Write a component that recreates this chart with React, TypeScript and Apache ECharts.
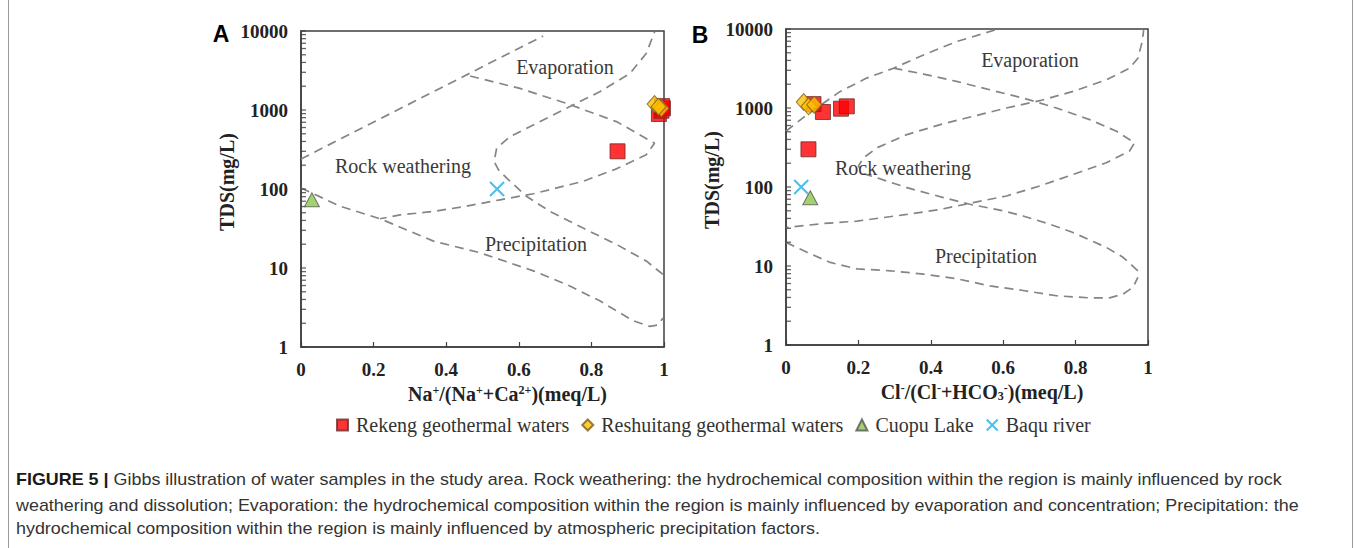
import React, { useEffect, useRef } from "react";
import * as echarts from "echarts";

const SERIF = "'Liberation Serif', 'Times New Roman', serif";
const SANS = "'Liberation Sans', Arial, sans-serif";

// Sample groups (legend order)
const groupNames = [
  "Rekeng geothermal waters",
  "Reshuitang geothermal waters",
  "Cuopu Lake",
  "Baqu river",
];

// TDS (mg/L) and the two Gibbs ratios for every sample
const rekengTDS = [300, 890, 980, 1050, 1120];
const rekengNaRatio = [0.872, 0.986, 0.993, 0.997, 0.995];
const rekengClRatio = [0.062, 0.102, 0.152, 0.168, 0.076];

const reshuitangTDS = [1190, 1050, 1100];
const reshuitangNaRatio = [0.974, 0.993, 0.985];
const reshuitangClRatio = [0.049, 0.0625, 0.078];

const cuopuTDS = [73];
const cuopuNaRatio = [0.03];
const cuopuClRatio = [0.067];

const baquTDS = [100];
const baquNaRatio = [0.54];
const baquClRatio = [0.042];

// Gibbs boundary envelopes, [ratio, TDS]
const naUpperBoundary = [[0, 240], [0.667, 8650]];
const naInnerBoundary = [
  [0.466, 2690], [0.603, 1875], [0.731, 1214], [0.869, 713], [0.974, 380],
  [0.951, 271], [0.869, 180], [0.777, 125], [0.64, 87], [0.548, 73],
  [0.456, 60.6], [0.365, 52], [0.273, 47], [0.218, 42],
];
const naLowerBoundary = [
  [0, 103], [0.108, 60.5], [0.218, 42], [0.365, 21.9], [0.493, 15.6],
  [0.64, 9.2], [0.731, 6.2], [0.823, 3.84], [0.915, 2.15], [0.961, 1.82],
  [0.983, 1.9], [0.997, 2.32],
];
const naRightBoundary = [
  [0.997, 8.3], [0.951, 12.3], [0.869, 19.9], [0.777, 32], [0.686, 52],
  [0.621, 81], [0.566, 138], [0.544, 175], [0.532, 223], [0.539, 329],
  [0.576, 461], [0.64, 647], [0.731, 1050], [0.823, 1702], [0.906, 2900],
  [0.951, 5180], [0.974, 9700],
];

const clUpperBoundary = [
  [0, 508], [0.058, 824], [0.15, 1622], [0.223, 2390], [0.297, 3190],
  [0.38, 4700], [0.471, 6920], [0.577, 9700],
];
const clInnerBoundary = [
  [0.297, 3190], [0.38, 2690], [0.471, 2170], [0.563, 1700], [0.655, 1337],
  [0.747, 1000], [0.839, 713], [0.913, 508], [0.963, 362], [0.949, 285],
  [0.885, 203], [0.793, 144], [0.701, 103], [0.609, 77], [0.517, 63.5],
  [0.426, 52], [0.334, 45], [0.196, 37], [0.104, 34.5], [0, 30.7],
];
const clLowerBoundary = [
  [0, 19.9], [0.058, 14.9], [0.122, 11.1], [0.196, 9.2], [0.288, 8.7],
  [0.38, 7.9], [0.471, 6.9], [0.563, 5.6], [0.655, 4.9], [0.747, 4.2],
  [0.839, 3.95], [0.894, 3.95], [0.931, 4.4], [0.959, 5.4], [0.972, 7.2],
];
const clRightBoundary = [
  [0.972, 8.7], [0.931, 12.9], [0.885, 17.2], [0.793, 26.5], [0.729, 33.8],
  [0.655, 43], [0.6, 50], [0.508, 60.5], [0.435, 73.5], [0.334, 98],
  [0.251, 131], [0.214, 147], [0.2, 184], [0.214, 234], [0.251, 313],
  [0.334, 461], [0.426, 617], [0.517, 785], [0.609, 1000], [0.701, 1237],
  [0.793, 1622], [0.885, 2275], [0.949, 3190], [0.972, 4270], [0.984, 6920],
  [0.988, 9700],
];

// Logarithmic tick marks of the TDS axis
const tdsTicks = [
  1, 2, 3, 4, 5, 6, 7, 8, 9,
  10, 20, 30, 40, 50, 60, 70, 80, 90,
  100, 200, 300, 400, 500, 600, 700, 800, 900,
  1000, 2000, 3000, 4000, 5000, 6000, 7000, 8000, 9000,
  10000,
];

const captionLines = [
  "{b|FIGURE 5 |} Gibbs illustration of water samples in the study area. Rock weathering: the hydrochemical composition within the region is mainly influenced by rock",
  "weathering and dissolution; Evaporation: the hydrochemical composition within the region is mainly influenced by evaporation and concentration; Precipitation: the",
  "hydrochemical composition within the region is mainly influenced by atmospheric precipitation factors.",
];

const AXIS_COLOR = "#3f3f3f";
const zip = (xs: number[], ys: number[]) => xs.map((x, i) => [x, ys[i]]);

const markerDefs = [
  {
    symbol: "rect",
    symbolSize: 15,
    itemStyle: { color: "#ff0000", borderColor: "#6e2a2a", borderWidth: 1 },
  },
  {
    symbol: "diamond",
    symbolSize: [15, 17],
    itemStyle: { color: "#ffc000", borderColor: "#7a6020", borderWidth: 1 },
  },
  {
    symbol: "triangle",
    symbolSize: [15, 14],
    itemStyle: { color: "#8cc84b", borderColor: "#555", borderWidth: 1 },
  },
  {
    symbol: "path://M0,0L20,20M20,0L0,20",
    symbolSize: 14,
    itemStyle: { color: "rgba(0,0,0,0)", borderColor: "#1ab0e8", borderWidth: 2 },
  },
];

const boundaryStyle = {
  color: "#858585",
  width: 1.7,
  type: [9, 6],
};

function boundarySeries(idx: number, data: number[][]) {
  return {
    type: "line",
    name: "boundary",
    xAxisIndex: idx,
    yAxisIndex: idx,
    data,
    symbol: "none",
    showSymbol: false,
    silent: true,
    lineStyle: boundaryStyle,
    z: 2,
  };
}

function tickSeries(idx: number) {
  return {
    type: "scatter",
    name: "ticks",
    xAxisIndex: idx,
    yAxisIndex: idx,
    data: tdsTicks.map((v) => [0, v]),
    symbol: "rect",
    symbolSize: [5, 1.3],
    symbolOffset: [2.5, 0],
    itemStyle: { color: AXIS_COLOR },
    silent: true,
    z: 5,
  };
}

function pointSeries(idx: number, groups: number[][][]) {
  return groups.map((data, g) => ({
    type: "scatter",
    name: groupNames[g],
    xAxisIndex: idx,
    yAxisIndex: idx,
    data,
    symbol: markerDefs[g].symbol,
    symbolSize: markerDefs[g].symbolSize,
    itemStyle: markerDefs[g].itemStyle,
    z: 10,
  }));
}

const supStyle = {
  fontFamily: SERIF,
  fontWeight: "bold",
  fontSize: 12,
  color: "#222",
  verticalAlign: "top",
};
const subStyle = {
  fontFamily: SERIF,
  fontWeight: "bold",
  fontSize: 12,
  color: "#222",
  verticalAlign: "bottom",
};

function xAxis(idx: number, name: string, shift: number) {
  return {
    gridIndex: idx,
    type: "value",
    min: 0,
    max: 1,
    interval: 0.2,
    axisLine: { show: true, lineStyle: { color: AXIS_COLOR, width: 1.5 } },
    axisTick: { show: true, inside: true, length: 5, lineStyle: { color: AXIS_COLOR, width: 1.2 } },
    axisLabel: {
      fontFamily: SERIF,
      fontWeight: "bold",
      fontSize: 19,
      color: "#222",
      margin: 13,
    },
    splitLine: { show: false },
    name,
    nameLocation: "middle",
    nameGap: 35,
    nameTextStyle: {
      fontFamily: SERIF,
      fontWeight: "bold",
      fontSize: 20,
      color: "#222",
      padding: [0, 0, 0, shift * 2],
      rich: { sup: supStyle, sub: subStyle },
    },
  };
}

function yAxis(idx: number) {
  return {
    gridIndex: idx,
    type: "log",
    logBase: 10,
    min: 1,
    max: 10000,
    axisLine: { show: true, lineStyle: { color: AXIS_COLOR, width: 1.5 } },
    axisTick: { show: false },
    axisLabel: {
      fontFamily: SERIF,
      fontWeight: "bold",
      fontSize: 19,
      color: "#222",
      margin: 13,
      formatter: (v: number) => String(Math.round(v)),
    },
    splitLine: { show: false },
    minorSplitLine: { show: false },
    name: "TDS(mg/L)",
    nameLocation: "middle",
    nameGap: 58,
    nameTextStyle: {
      fontFamily: SERIF,
      fontWeight: "bold",
      fontSize: 20,
      color: "#222",
      padding: [0, 0, 0, 14],
    },
  };
}

function regionText(x: number, y: number, text: string) {
  return {
    type: "text",
    x,
    y,
    silent: true,
    z: 20,
    style: {
      text,
      fontFamily: SERIF,
      fontSize: 20,
      fill: "#3a3a3a",
      align: "center",
      verticalAlign: "middle",
    },
  };
}

function panelLetter(x: number, y: number, text: string) {
  return {
    type: "text",
    x,
    y,
    silent: true,
    style: {
      text,
      fontFamily: SANS,
      fontWeight: "bold",
      fontSize: 23,
      fill: "#000",
      align: "center",
      verticalAlign: "middle",
    },
  };
}

function buildOption() {
  const naGroups = [
    zip(rekengNaRatio, rekengTDS),
    zip(reshuitangNaRatio, reshuitangTDS),
    zip(cuopuNaRatio, cuopuTDS),
    zip(baquNaRatio, baquTDS),
  ];
  const clGroups = [
    zip(rekengClRatio, rekengTDS),
    zip(reshuitangClRatio, reshuitangTDS),
    zip(cuopuClRatio, cuopuTDS),
    zip(baquClRatio, baquTDS),
  ];

  const gridBase = {
    show: true,
    borderColor: AXIS_COLOR,
    borderWidth: 1.5,
    backgroundColor: "transparent",
  };

  return {
    animation: false,
    backgroundColor: "#ffffff",
    grid: [
      { ...gridBase, left: 301, top: 31, width: 363, height: 316 },
      { ...gridBase, left: 786, top: 29, width: 362, height: 316 },
    ],
    xAxis: [
      xAxis(0, "Na{sup|+}/(Na{sup|+}+Ca{sup|2+})(meq/L)", 25),
      xAxis(1, "Cl{sup|-}/(Cl{sup|-}+HCO{sub|3}{sup|-})(meq/L)", 15),
    ],
    yAxis: [yAxis(0), yAxis(1)],
    legend: {
      left: 331,
      top: 410,
      itemWidth: 11,
      itemHeight: 11,
      itemGap: 12,
      textStyle: {
        fontFamily: SERIF,
        fontSize: 20,
        color: "#333",
        padding: [0, 0, 0, 3],
      },
      data: groupNames.map((name, i) =>
        i === 2
          ? { name, textStyle: { padding: [0, 14, 0, 3] } }
          : { name }
      ),
    },
    series: [
      boundarySeries(0, naUpperBoundary),
      boundarySeries(0, naInnerBoundary),
      boundarySeries(0, naLowerBoundary),
      boundarySeries(0, naRightBoundary),
      boundarySeries(1, clUpperBoundary),
      boundarySeries(1, clInnerBoundary),
      boundarySeries(1, clLowerBoundary),
      boundarySeries(1, clRightBoundary),
      tickSeries(0),
      tickSeries(1),
      ...pointSeries(0, naGroups),
      ...pointSeries(1, clGroups),
    ],
    graphic: [
      panelLetter(221, 34, "A"),
      panelLetter(700, 35, "B"),
      regionText(565, 67, "Evaporation"),
      regionText(403, 166, "Rock weathering"),
      regionText(536, 244, "Precipitation"),
      regionText(1030, 60, "Evaporation"),
      regionText(903, 168, "Rock weathering"),
      regionText(986, 256, "Precipitation"),
      {
        type: "line",
        silent: true,
        shape: { x1: 8.5, y1: 0, x2: 8.5, y2: 548 },
        style: { stroke: "#9a9a9a", lineWidth: 1 },
      },
      {
        type: "line",
        silent: true,
        shape: { x1: 1352.5, y1: 0, x2: 1352.5, y2: 548 },
        style: { stroke: "#9a9a9a", lineWidth: 1 },
      },
      ...captionLines.map((text, i) => ({
        type: "text",
        x: 16,
        y: [480, 506, 529][i],
        scaleX: 1.12,
        silent: true,
        style: {
          text,
          fontFamily: SANS,
          fontSize: 16,
          fill: "#333",
          align: "left",
          verticalAlign: "middle",
          rich: {
            b: { fontFamily: SANS, fontSize: 16, fontWeight: "bold", fill: "#1a1a1a" },
          },
        },
      })),
    ],
  };
}

export default function App() {
  const ref = useRef<HTMLDivElement>(null);
  useEffect(() => {
    if (!ref.current) return;
    const chart = echarts.init(ref.current, null, { renderer: "svg" });
    chart.setOption(buildOption() as any);
    return () => chart.dispose();
  }, []);
  return (
    <div
      ref={ref}
      style={{
        position: "absolute",
        left: 0,
        top: 0,
        width: 1356,
        height: 548,
        background: "#fff",
      }}
    />
  );
}
